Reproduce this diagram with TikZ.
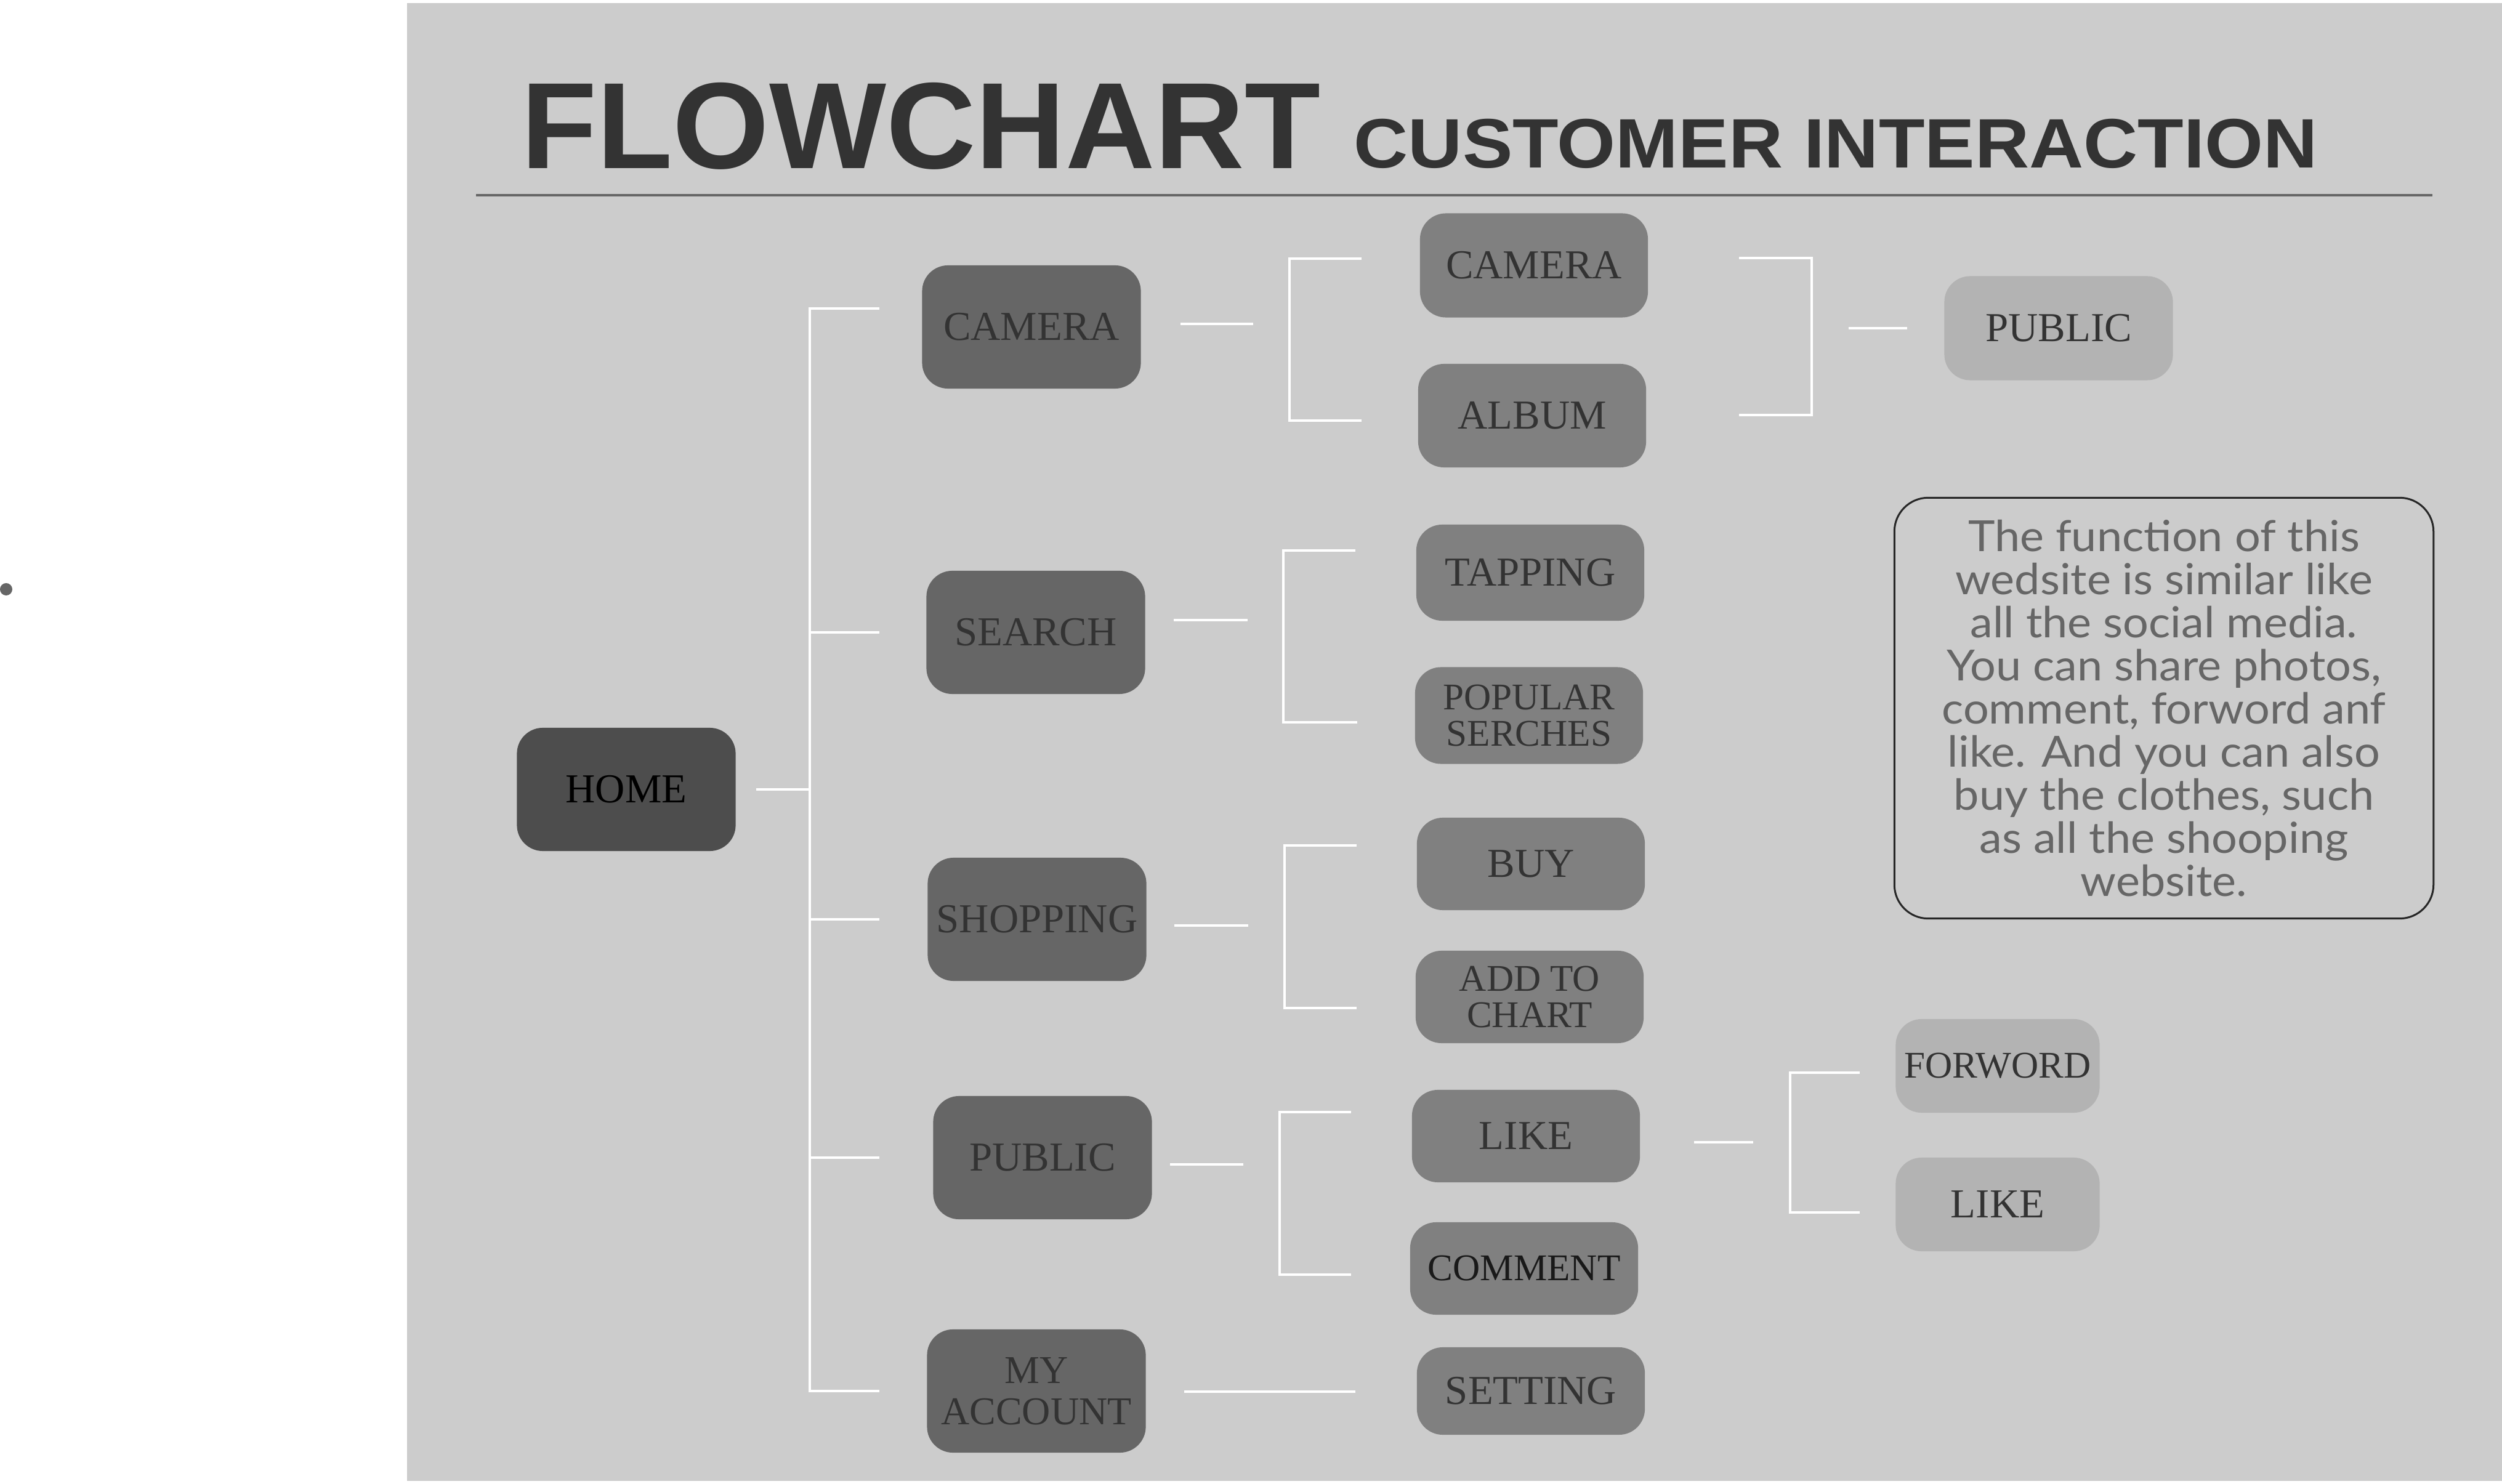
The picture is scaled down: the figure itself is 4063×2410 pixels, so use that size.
\documentclass[tikz,border=0pt]{standalone}
\usepackage{fontspec}
\setmainfont{Liberation Serif}
\newfontfamily\titlefont{Liberation Sans}[FakeStretch=1.01]
\newfontfamily\subtitlefont{Liberation Sans}[FakeStretch=1.075]
\newfontfamily\notefont{Lato}[FakeStretch=1.06]
\usetikzlibrary{calc}
\definecolor{bggray}{HTML}{CCCCCC}
\definecolor{homegray}{HTML}{4D4D4D}
\definecolor{maingray}{HTML}{666666}
\definecolor{subgray}{HTML}{808080}
\definecolor{leafgray}{HTML}{B3B3B3}
\definecolor{inkgray}{HTML}{333333}

\begin{document}
\begin{tikzpicture}[
		x=0.01cm, y=-0.01cm,
		every node/.style={inner sep=0pt, align=center, rounded corners=0.42cm},
		homenode/.style={fill=homegray, minimum width=3.55cm, minimum height=2cm, text=black, font=\fontsize{19}{22}\selectfont},
		mainnode/.style={fill=maingray, minimum width=3.55cm, minimum height=2cm, text=inkgray, font=\fontsize{19}{22}\selectfont},
		subnode/.style={fill=subgray, minimum width=3.7cm, minimum height=1.5cm, text=inkgray, font=\fontsize{19}{22}\selectfont},
		leafnode/.style={fill=leafgray, minimum width=3.31cm, minimum height=1.52cm, text=inkgray, font=\fontsize{19}{22}\selectfont},
		twoline/.style={font=\fontsize{17.4}{16.8}\selectfont},
		link/.style={white, line width=0.04cm}
		]
		\useasboundingbox (0,0) rectangle (4063,2410);
		\fill[white] (0,0) rectangle (4063,2410);
		\fill[bggray] (661,5) rectangle (4063,2405);
		\fill[maingray] (10,957) circle (0.1cm);
		
		\node[anchor=base west, text=inkgray, font=\titlefont\bfseries\fontsize{56.7}{60}\selectfont] (title) at (846,274) {FLOWCHART};
		\node[anchor=base west, text=inkgray, font=\subtitlefont\bfseries\fontsize{32.3}{36}\selectfont] (subtitle) at (2198,273) {CUSTOMER INTERACTION};
		\draw[maingray, line width=0.045cm] (773,317) -- (3950,317);
		
		\node[homenode] (home) at (1017,1282) {HOME};
		
		\node[mainnode] (cam1) at (1675,531) {CAMERA};
		\node[mainnode] (search) at (1682,1027) {SEARCH};
		\node[mainnode] (shop) at (1684,1493) {SHOPPING};
		\node[mainnode] (pub1) at (1693,1880) {PUBLIC};
		\node[mainnode, font=\fontsize{18.2}{19}\selectfont] (account) at (1683,2259) {MY\\ACCOUNT};
		
		\node[subnode, minimum height=1.69cm] (cam2) at (2491,431) {CAMERA};
		\node[subnode, minimum height=1.68cm] (album) at (2488,675) {ALBUM};
		\node[subnode, minimum height=1.56cm] (tapping) at (2485,930) {TAPPING};
		\node[subnode, twoline, minimum height=1.57cm] (popular) at (2483,1162) {POPULAR\\SERCHES};
		\node[subnode] (buy) at (2486,1403) {BUY};
		\node[subnode, twoline] (addchart) at (2484,1619) {ADD TO\\CHART};
		\node[subnode] (like2) at (2478,1845) {LIKE};
		\node[subnode, twoline, text=black!90] (comment) at (2475,2060) {COMMENT};
		\node[subnode, minimum height=1.42cm] (setting) at (2486,2259) {SETTING};
		
		\node[leafnode, minimum width=3.71cm, minimum height=1.69cm] (pub3) at (3343,533) {PUBLIC};
		\node[leafnode, twoline] (forword) at (3244,1731) {FORWORD};
		\node[leafnode] (like3) at (3244,1956) {LIKE};
		
		\node[draw=black!85, line width=0.03cm, rounded corners=0.55cm, minimum width=8.75cm, minimum height=6.83cm, text=maingray, font=\notefont\fontsize{19.8}{19.9}\selectfont] (note) at (3514,1150) {The function of this\\wedsite is similar like\\all the social media.\\You can share photos,\\comment, forword anf\\like. And you can also\\buy the clothes, such\\as all the shooping\\website.};
		
		\coordinate (trunk) at (1315,501);
		\draw[link] ($(home.east)+(33,0)$) -- (trunk |- home);
		\draw[link] ($(trunk)+(113,0)$) -- (trunk) -- (trunk |- account) -- ++(113,0);
		\draw[link] (trunk |- search) -- ++(113,0);
		\draw[link] (trunk |- shop) -- ++(113,0);
		\draw[link] (trunk |- pub1) -- ++(113,0);
		
		\draw[link] ($(cam1.east)+(64,-5)$) -- ++(118,0);
		\draw[link] ($(cam2.west)+(-94,-11)$) -- ++(-117,0) |- ($(album.west)+(-91,8)$);
		\draw[link] ($(search.east)+(46,-20)$) -- ++(120,0);
		\draw[link] ($(tapping.west)+(-98,-36)$) -- ++(-117,0) |- ($(popular.west)+(-93,11)$);
		\draw[link] ($(shop.east)+(45,10)$) -- ++(120,0);
		\draw[link] ($(buy.west)+(-97,-30)$) -- ++(-117,0) |- ($(addchart.west)+(-95,18)$);
		\draw[link] ($(pub1.east)+(29,11)$) -- ++(119,0);
		\draw[link] ($(like2.west)+(-98,-39)$) -- ++(-116,0) |- ($(comment.west)+(-95,10)$);
		\draw[link] ($(account.east)+(62,1)$) -- ($(setting.west)+(-99,1)$);
		
		\draw[link] ($(cam2.east)+(147,-12)$) -- ++(118,0) |- ($(album.east)+(150,-1)$);
		\draw[link] ($(pub3.west)+(-155,0)$) -- ++(95,0);
		\draw[link] ($(like2.east)+(87,10)$) -- ++(96,0);
		\draw[link] ($(forword.west)+(-58,11)$) -- ++(-113,0) |- ($(like3.west)+(-58,13)$);
\end{tikzpicture}
\end{document}
